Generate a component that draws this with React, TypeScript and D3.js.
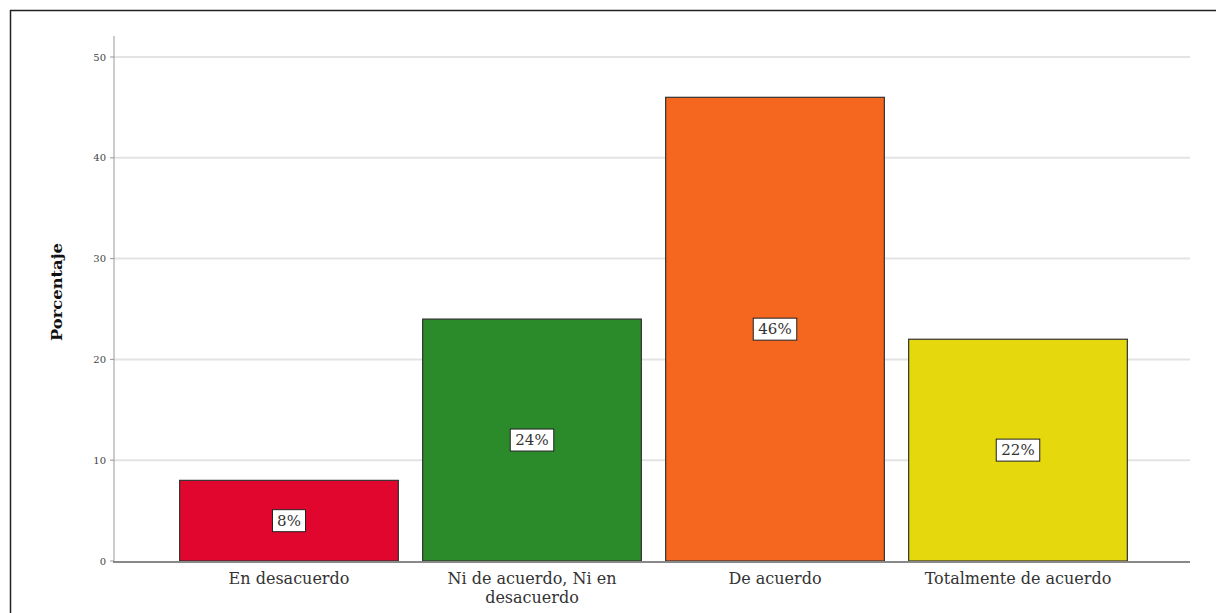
import React from "react";
import * as d3 from "d3";

const categories = ["En desacuerdo", "Ni de acuerdo, Ni en desacuerdo", "De acuerdo", "Totalmente de acuerdo"];
const categoryLines = [["En desacuerdo"], ["Ni de acuerdo, Ni en", "desacuerdo"], ["De acuerdo"], ["Totalmente de acuerdo"]];
const values = [8, 24, 46, 22];
const valueLabels = ["8%", "24%", "46%", "22%"];
const colors = ["#e0062e", "#2b8a2a", "#f5661f", "#e5d80c"];
const yTicks = [0, 10, 20, 30, 40, 50];
const yTitle = "Porcentaje";

export default function App() {
  const W = 1216, H = 613;
  const y = d3.scaleLinear().domain([0, 50]).range([561, 57]);
  const x = d3.scaleBand<string>().domain(categories).range([167.5, 1139.5]).paddingInner(0.1).paddingOuter(0.05);
  const serif = "'DejaVu Serif', 'Liberation Serif', serif";
  return (
    <svg width={W} height={H} style={{ position: "absolute", left: 0, top: 0, background: "#fff" }}>
      <rect x={0} y={0} width={W} height={H} fill="#fff" />
      {/* frame */}
      <line x1={10} y1={10.5} x2={W} y2={10.5} stroke="#222" strokeWidth={1.5} />
      <line x1={10.5} y1={10} x2={10.5} y2={H} stroke="#222" strokeWidth={1.5} />
      {/* gridlines */}
      {yTicks.filter(t => t > 0).map(t => (
        <line key={t} x1={113} x2={1190} y1={y(t)} y2={y(t)} stroke="#e3e3e3" strokeWidth={2} />
      ))}
      {/* y axis */}
      <line x1={114} x2={114} y1={36} y2={y(0)} stroke="#999" strokeWidth={1} />
      {yTicks.map(t => (
        <g key={t}>
          <line x1={110} x2={114} y1={y(t)} y2={y(t)} stroke="#999" />
          <text x={106} y={y(t)} dy="0.35em" textAnchor="end" fontFamily={serif} fontSize={10} fill="#444">{t}</text>
        </g>
      ))}
      <text transform={`translate(62,${292}) rotate(-90)`} textAnchor="middle" fontFamily={serif} fontWeight="bold" fontSize={14} fill="#111" textLength={98} lengthAdjust="spacingAndGlyphs">{yTitle}</text>
      {/* bars */}
      {categories.map((c, i) => {
        const bx = x(c)!;
        const bw = x.bandwidth();
        const top = y(values[i]);
        const mid = (top + y(0)) / 2;
        const lw = valueLabels[i].length * 10.5 + 12;
        return (
          <g key={c}>
            <rect x={bx} y={top} width={bw} height={y(0) - top} fill={colors[i]} stroke="#333" strokeWidth={1.2} />
            <rect x={bx + bw / 2 - lw / 2} y={mid - 11} width={lw} height={22} fill="#fff" stroke="#222" strokeWidth={1} />
            <text x={bx + bw / 2} y={mid} dy="0.35em" textAnchor="middle" fontFamily={serif} fontSize={15} fill="#333">{valueLabels[i]}</text>
            {categoryLines[i].map((ln, j) => (
              <text key={j} x={bx + bw / 2} y={578 + j * 19} dy="0.35em" textAnchor="middle" fontFamily={serif} fontSize={16} fill="#333">{ln}</text>
            ))}
          </g>
        );
      })}
      {/* baseline */}
      <line x1={113} x2={1190} y1={y(0) + 1} y2={y(0) + 1} stroke="#888" strokeWidth={2} />
    </svg>
  );
}
